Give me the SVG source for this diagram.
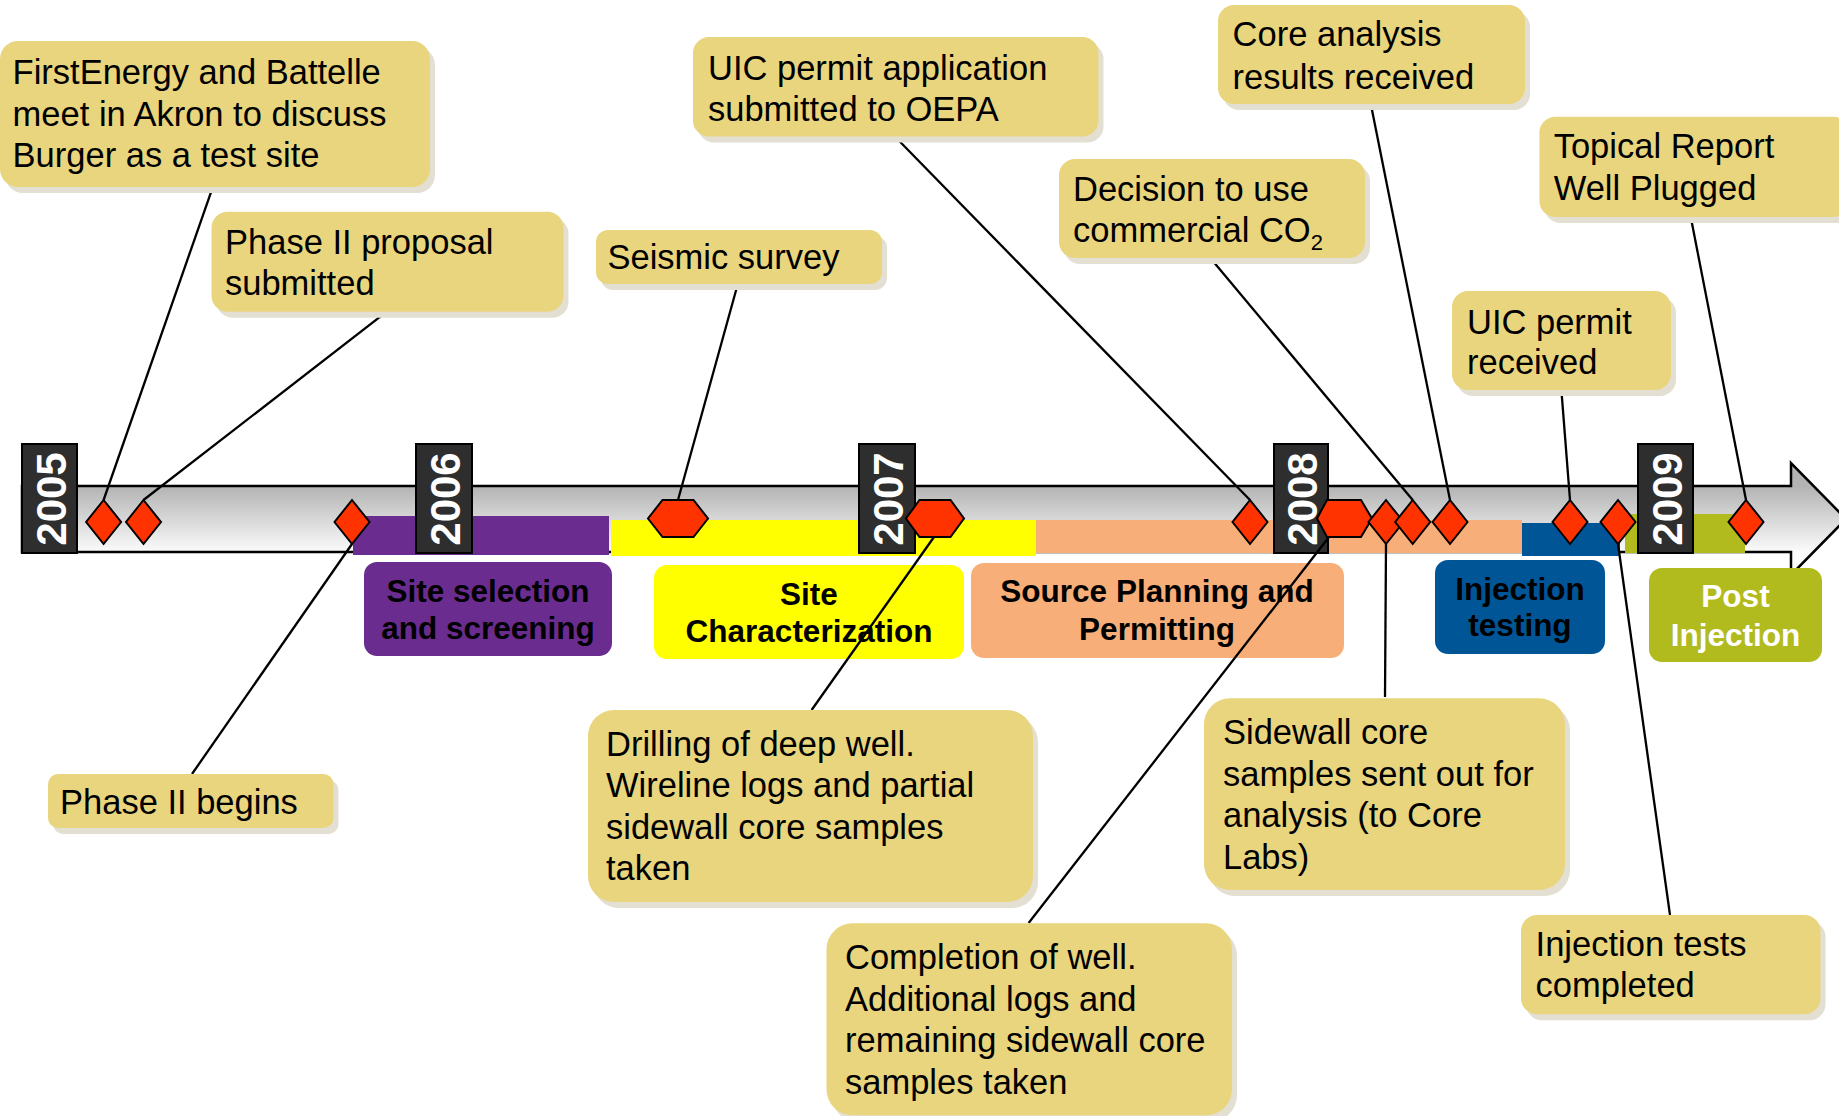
<svg xmlns="http://www.w3.org/2000/svg" width="1839" height="1116" viewBox="0 0 1839 1116">
<style>
.sh{fill:#E4DFD3}
.cb{fill:#E9D57E}
.ct{font-family:"Liberation Sans",Arial,sans-serif;font-size:34.5px;fill:#000}
.pt{font-family:"Liberation Sans",Arial,sans-serif;font-size:31.5px;font-weight:bold;fill:#000;text-anchor:middle}
.yb{fill:#2e2e2e;stroke:#000;stroke-width:2}
.yt{font-family:"Liberation Sans",Arial,sans-serif;font-size:42px;font-weight:bold;fill:#fff;text-anchor:middle}
.mk{fill:#FF3300;stroke:#000;stroke-width:2;stroke-linejoin:miter}
.cn line{stroke:#000;stroke-width:2.3}
</style>
<defs>
<linearGradient id="ag2" gradientUnits="userSpaceOnUse" x1="0" y1="486" x2="0" y2="552">
<stop offset="0" stop-color="#b3b3b3"/>
<stop offset="1" stop-color="#fbfbfb"/>
</linearGradient>
</defs>
<rect width="1839" height="1116" fill="#fff"/>

<g id="timeline-arrow">
<polygon points="22,486 1791,486 1791,463 1846,519 1791,575 1791,552 22,552" fill="url(#ag2)" stroke="#000" stroke-width="2.5"/>
</g>

<g id="bands">
<rect x="353" y="516" width="256" height="39" fill="#6A2C8F"/>
<rect x="611" y="520" width="425" height="36" fill="#FFFF00"/>
<rect x="1036" y="520" width="486" height="33" fill="#F8AE78"/>
<rect x="1522" y="523" width="98" height="33" fill="#005596"/>
<rect x="1625" y="514" width="120" height="39" fill="#B2BB1E"/>
</g>

<g id="phase-site-selection">
<rect x="364" y="562" width="248" height="94" rx="13" fill="#6A2C8F"/>
<text class="pt" x="488" y="602">Site selection</text>
<text class="pt" x="488" y="639">and screening</text>
</g>
<g id="phase-site-characterization">
<rect x="654" y="565" width="310" height="94" rx="13" fill="#FFFF00"/>
<text class="pt" x="809" y="605">Site</text>
<text class="pt" x="809" y="642">Characterization</text>
</g>
<g id="phase-source-planning">
<rect x="971" y="563" width="373" height="95" rx="13" fill="#F8AE78"/>
<text class="pt" x="1157" y="602">Source Planning and</text>
<text class="pt" x="1157" y="640">Permitting</text>
</g>
<g id="phase-injection-testing">
<rect x="1435" y="560" width="170" height="94" rx="13" fill="#005596"/>
<text class="pt" x="1520" y="600">Injection</text>
<text class="pt" x="1520" y="636">testing</text>
</g>
<g id="phase-post-injection">
<rect x="1649" y="568" width="173" height="94" rx="13" fill="#B2BB1E"/>
<text class="pt" x="1735.5" y="607" style="fill:#fff">Post</text>
<text class="pt" x="1735.5" y="646" style="fill:#fff">Injection</text>
</g>

<g id="years">
<g id="year-2005"><rect class="yb" x="22" y="444" width="55" height="109"/><text class="yt" transform="translate(65.5,499) rotate(-90)">2005</text></g>
<g id="year-2006"><rect class="yb" x="416" y="444" width="56" height="109"/><text class="yt" transform="translate(460,499) rotate(-90)">2006</text></g>
<g id="year-2007"><rect class="yb" x="859" y="444" width="56" height="109"/><text class="yt" transform="translate(903,499) rotate(-90)">2007</text></g>
<g id="year-2008"><rect class="yb" x="1274" y="444" width="54" height="109"/><text class="yt" transform="translate(1317,499) rotate(-90)">2008</text></g>
<g id="year-2009"><rect class="yb" x="1638" y="444" width="55" height="109"/><text class="yt" transform="translate(1682,499) rotate(-90)">2009</text></g>
</g>

<g id="connectors" class="cn">
<line x1="212.7" y1="187.3" x2="103.6" y2="500"/>
<line x1="386.7" y1="311.7" x2="143.5" y2="500"/>
<line x1="737.8" y1="284" x2="678" y2="500"/>
<line x1="895.6" y1="137.3" x2="1250" y2="500"/>
<line x1="1212" y1="260" x2="1412.7" y2="500"/>
<line x1="1371" y1="105" x2="1450" y2="500"/>
<line x1="1561.5" y1="391.7" x2="1570" y2="500"/>
<line x1="1691" y1="218.3" x2="1746" y2="500"/>
<line x1="192" y1="774" x2="352" y2="544"/>
<line x1="811.6" y1="710" x2="934" y2="537"/>
<line x1="1028.6" y1="923" x2="1329" y2="537"/>
<line x1="1385" y1="697" x2="1386" y2="544"/>
<line x1="1670" y1="915" x2="1618" y2="544"/>
</g>

<g id="markers">
<polygon class="mk" points="103.6,500 121.1,522 103.6,544 86.1,522"/>
<polygon class="mk" points="143.5,500 161,522 143.5,544 126,522"/>
<polygon class="mk" points="352,500 369.5,522 352,544 334.5,522"/>
<polygon class="mk" points="662.5,500 693.5,500 708,518.5 693.5,537 662.5,537 648,518.5"/>
<polygon class="mk" points="919.5,500 950.5,500 964,518.5 950.5,537 919.5,537 906,518.5"/>
<polygon class="mk" points="1250,500 1267.5,522 1250,544 1232.5,522"/>
<polygon class="mk" points="1327,500 1361,500 1372,518.5 1361,537 1327,537 1317,518.5"/>
<polygon class="mk" points="1386,500 1403.5,522 1386,544 1368.5,522"/>
<polygon class="mk" points="1412.7,500 1430.2,522 1412.7,544 1395.2,522"/>
<polygon class="mk" points="1450,500 1467.5,522 1450,544 1432.5,522"/>
<polygon class="mk" points="1570,500 1587.5,522 1570,544 1552.5,522"/>
<polygon class="mk" points="1618,500 1635.5,522 1618,544 1600.5,522"/>
<polygon class="mk" points="1746,500 1763.5,522 1746,544 1728.5,522"/>
</g>

<g id="callout-firstenergy">
<rect class="sh" x="5" y="47" width="430" height="146" rx="18"/>
<rect class="cb" x="0" y="41" width="430" height="146" rx="18"/>
<text class="ct" x="12.6" y="84">FirstEnergy and Battelle</text>
<text class="ct" x="12.6" y="125.5">meet in Akron to discuss</text>
<text class="ct" x="12.6" y="167">Burger as a test site</text>
</g>
<g id="callout-phase2-proposal">
<rect class="sh" x="216.5" y="217.7" width="352" height="100" rx="16"/>
<rect class="cb" x="211.5" y="211.7" width="352" height="100" rx="16"/>
<text class="ct" x="225" y="253.5">Phase II proposal</text>
<text class="ct" x="225" y="294.5">submitted</text>
</g>
<g id="callout-seismic">
<rect class="sh" x="601" y="236" width="286" height="54" rx="12"/>
<rect class="cb" x="596" y="230" width="286" height="54" rx="12"/>
<text class="ct" x="607.5" y="268.5">Seismic survey</text>
</g>
<g id="callout-uic-application">
<rect class="sh" x="698" y="43" width="405.5" height="99.5" rx="16"/>
<rect class="cb" x="693" y="37" width="405.5" height="99.5" rx="16"/>
<text class="ct" x="708" y="79.5">UIC permit application</text>
<text class="ct" x="708" y="120.5">submitted to OEPA</text>
</g>
<g id="callout-decision-co2">
<rect class="sh" x="1064" y="165" width="306" height="99" rx="16"/>
<rect class="cb" x="1059" y="159" width="306" height="99" rx="16"/>
<text class="ct" x="1073" y="200.5">Decision to use</text>
<text class="ct" x="1073" y="242">commercial CO<tspan font-size="22" dy="8">2</tspan></text>
</g>
<g id="callout-core-analysis">
<rect class="sh" x="1223" y="11" width="307" height="99" rx="16"/>
<rect class="cb" x="1218" y="5" width="307" height="99" rx="16"/>
<text class="ct" x="1232.6" y="46">Core analysis</text>
<text class="ct" x="1232.6" y="88.5">results received</text>
</g>
<g id="callout-topical-report">
<rect class="sh" x="1544.4" y="122.7" width="310" height="100.3" rx="16"/>
<rect class="cb" x="1539.4" y="116.7" width="310" height="100.3" rx="16"/>
<text class="ct" x="1553.7" y="158">Topical Report</text>
<text class="ct" x="1553.7" y="199.5">Well Plugged</text>
</g>
<g id="callout-uic-received">
<rect class="sh" x="1457" y="297" width="219" height="99" rx="16"/>
<rect class="cb" x="1452" y="291" width="219" height="99" rx="16"/>
<text class="ct" x="1467" y="334">UIC permit</text>
<text class="ct" x="1467" y="374">received</text>
</g>
<g id="callout-phase2-begins">
<rect class="sh" x="53" y="780" width="285.5" height="54" rx="10"/>
<rect class="cb" x="48" y="774" width="285.5" height="54" rx="10"/>
<text class="ct" x="60" y="813.5">Phase II begins</text>
</g>
<g id="callout-drilling">
<rect class="sh" x="593" y="716" width="445" height="192" rx="26"/>
<rect class="cb" x="588" y="710" width="445" height="192" rx="26"/>
<text class="ct" x="606" y="755.5">Drilling of deep well.</text>
<text class="ct" x="606" y="797">Wireline logs and partial</text>
<text class="ct" x="606" y="838.5">sidewall core samples</text>
<text class="ct" x="606" y="880">taken</text>
</g>
<g id="callout-completion">
<rect class="sh" x="831.5" y="929.3" width="405.5" height="192" rx="26"/>
<rect class="cb" x="826.5" y="923.3" width="405.5" height="192" rx="26"/>
<text class="ct" x="845" y="968.5">Completion of well.</text>
<text class="ct" x="845" y="1010.5">Additional logs and</text>
<text class="ct" x="845" y="1052">remaining sidewall core</text>
<text class="ct" x="845" y="1093.5">samples taken</text>
</g>
<g id="callout-sidewall">
<rect class="sh" x="1209" y="704.3" width="361" height="191.7" rx="26"/>
<rect class="cb" x="1204" y="698.3" width="361" height="191.7" rx="26"/>
<text class="ct" x="1223" y="743.5">Sidewall core</text>
<text class="ct" x="1223" y="785.5">samples sent out for</text>
<text class="ct" x="1223" y="827">analysis (to Core</text>
<text class="ct" x="1223" y="868.5">Labs)</text>
</g>
<g id="callout-injection-tests">
<rect class="sh" x="1526" y="921" width="299.5" height="99.3" rx="16"/>
<rect class="cb" x="1521" y="915" width="299.5" height="99.3" rx="16"/>
<text class="ct" x="1535.6" y="955.5">Injection tests</text>
<text class="ct" x="1535.6" y="997">completed</text>
</g>
</svg>
